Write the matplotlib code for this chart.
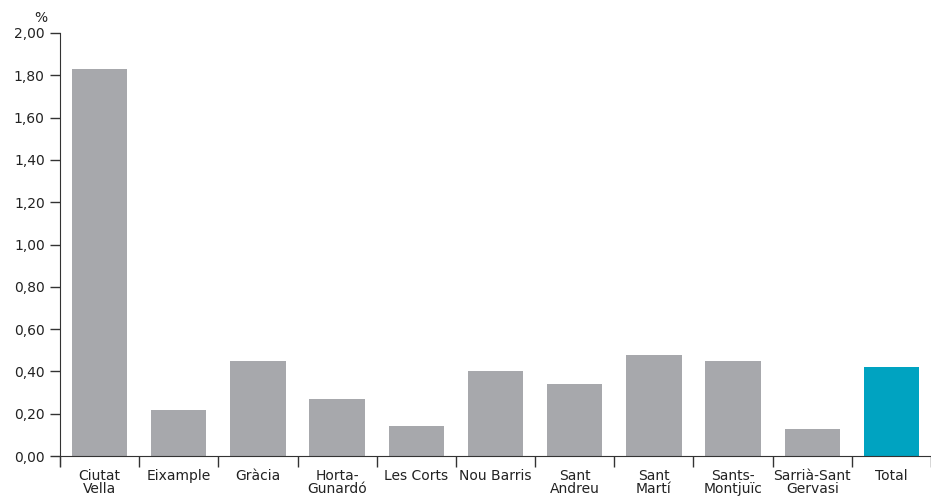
import matplotlib
matplotlib.use('Agg')
import matplotlib.pyplot as plt
import numpy as np

# Data
districts = ['Ciutat\nVella', 'Eixample', 'Gràcia', 'Horta-\nGunardó', 'Les Corts',
             'Nou Barris', 'Sant\nAndreu', 'Sant\nMartí', 'Sants-\nMontjuïc',
             'Sarrià-Sant\nGervasi', 'Total']
values = [1.83, 0.22, 0.45, 0.27, 0.14, 0.40, 0.34, 0.48, 0.45, 0.13, 0.42]
yticks = [0.0, 0.2, 0.4, 0.6, 0.8, 1.0, 1.2, 1.4, 1.6, 1.8, 2.0]

grey = '#a7a8ac'
blue = '#00a3c1'
dark = '#333333'
colors = [grey] * (len(values) - 1) + [blue]

plt.rcParams['font.family'] = 'DejaVu Sans'

fig = plt.figure(figsize=(9.31, 4.97), dpi=100)
ax = fig.add_axes([60 / 931, 31 / 497, 871 / 931, 433 / 497])

x = np.arange(len(values))
ax.bar(x, values, width=0.7, color=colors, zorder=2)

ax.set_xlim(-0.5, 10.42)
ax.set_ylim(-0.047, 2.0)

# y axis
ax.set_yticks(yticks)
ax.set_yticklabels([f'{v:.2f}'.replace('.', ',') for v in yticks], fontsize=10, color='#222222')
ax.tick_params(axis='y', length=7, width=1, color=dark, pad=4)

# x axis at zero with separator ticks between categories
ax.spines['bottom'].set_position(('data', 0))
ax.spines['bottom'].set_color(dark)
ax.spines['left'].set_color(dark)
ax.spines['top'].set_visible(False)
ax.spines['right'].set_visible(False)
ax.set_xticks(x)
ax.set_xticklabels(districts, fontsize=10, color='#222222', linespacing=0.95)
ax.set_xticks(np.arange(-0.5, len(values), 1.0), minor=True)
ax.tick_params(axis='x', which='major', length=0, pad=9)
ax.tick_params(axis='x', which='minor', length=8, width=1, color=dark)

# unit label above the y axis
fig.text(41 / 931, 1 - 18 / 497, '%', fontsize=10, color='#222222', ha='center', va='center')

fig.savefig('out.png', dpi=100)
